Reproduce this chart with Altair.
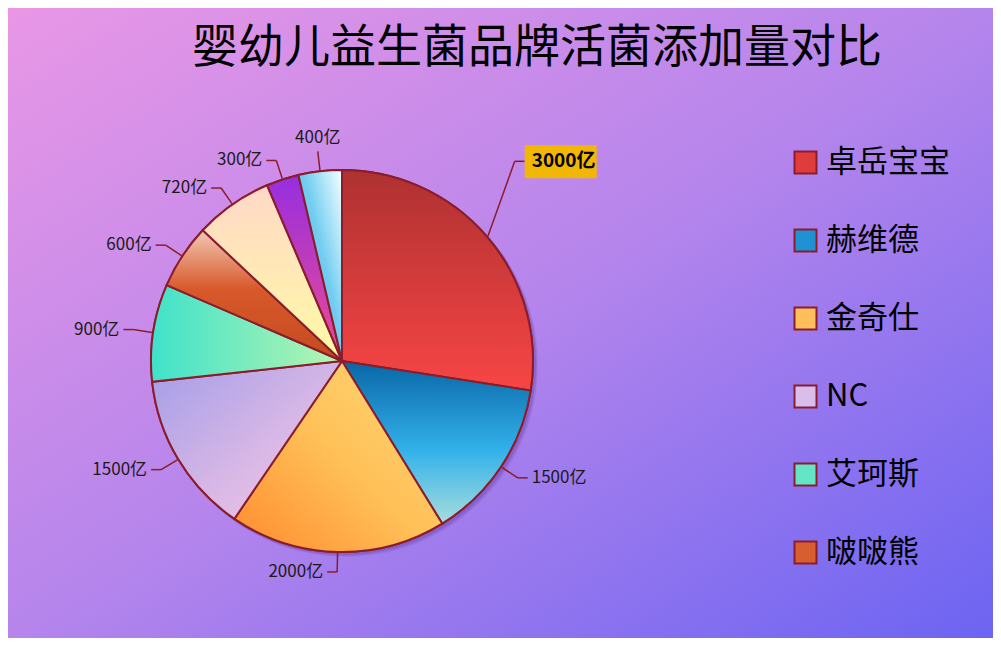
import altair as alt
import pandas as pd

# ---- data ----
brands = ["卓岳宝宝", "赫维德", "金奇仕", "NC", "艾珂斯", "啵啵熊", "品牌七", "品牌八", "品牌九"]
amounts = [3000, 1500, 2000, 1500, 900, 600, 720, 300, 400]
legend_brands = ["卓岳宝宝", "赫维德", "金奇仕", "NC", "艾珂斯", "啵啵熊"]
title_text = "婴幼儿益生菌品牌活菌添加量对比"
unit = "亿"

# ---- layout / style ----
W, H = 985, 630
CX, CY, R = 334, 353, 191
TOTAL = sum(amounts)
FONT = "Noto Sans CJK SC"
EDGE = "#8B1C2C"


def lg(x1, y1, x2, y2, stops):
    return {"gradient": "linear", "x1": x1, "y1": y1, "x2": x2, "y2": y2,
            "stops": [{"offset": o, "color": c} for o, c in stops]}


grads = [
    lg(0, 0, 0, 1, [(0, "#AE3131"), (1, "#F84545")]),
    lg(0, 0, 0, 1, [(0, "#0866A6"), (0.55, "#33B1EA"), (1, "#A8DDDC")]),
    lg(0, 1, 1, 0, [(0, "#FF8A2E"), (0.5, "#FFC158"), (1, "#FFD676")]),
    lg(0, 0, 1, 1, [(0, "#A39DE8"), (0.6, "#DBB9E6"), (1, "#F2C9E2")]),
    lg(0, 0, 1, 0, [(0, "#3FE2CB"), (1, "#B8F5B0")]),
    lg(0, 0, 0, 1, [(0, "#F2C8B6"), (0.45, "#D8582A"), (1, "#C24C20")]),
    lg(0, 0, 0, 1, [(0, "#FFD8C8"), (1, "#FFFBA4")]),
    lg(0, 0, 0, 1, [(0, "#962EE0"), (1, "#EC4C92")]),
    lg(0, 1, 1, 0, [(0, "#45BDEE"), (0.55, "#70CDF0"), (1, "#F6FFFF")]),
]
flat = ["#E03C3C", "#1E92D2", "#FFBE5C", "#D8BEEA", "#62E6C6", "#D65E30",
        "#FFEBB8", "#C040C0", "#9ADCF4"]

df = pd.DataFrame({"brand": brands, "value": amounts, "idx": list(range(len(brands)))})

base = alt.Chart(df).transform_window(
    cum="sum(value)", sort=[alt.SortField("idx")], frame=[None, 0]
).transform_calculate(
    start="datum.cum - datum.value",
    mid=f"(datum.cum - datum.value / 2) / {TOTAL} * 2 * PI",
    label=f"datum.value + '{unit}'",
)

geo = base.transform_joinaggregate(vmax="max(value)").transform_calculate(
    hi="datum.value == datum.vmax ? 1 : 0",
    s="sin(datum.mid)", c="cos(datum.mid)",
).transform_calculate(
    lead="datum.hi ? 73 : 20",
    ang2="datum.hi ? datum.mid - 0.15 : datum.mid",
    top="datum.c > 0 && abs(datum.s) < 0.15 ? 1 : 0",
    side="datum.s > 0 ? 1 : -1",
    px1=f"{CX} + {R + 1} * datum.s",
    py1=f"{CY} - {R + 1} * datum.c",
).transform_calculate(
    px2=f"{CX} + ({R} + datum.lead) * sin(datum.ang2)",
    py2=f"{CY} - ({R} + datum.lead) * cos(datum.ang2)",
).transform_calculate(
    px3="datum.top ? datum.px2 : datum.px2 + 10 * datum.side",
    py3="datum.py2",
).transform_calculate(
    tx="datum.top ? datum.px3 : datum.px3 + 4 * datum.side",
    ty="datum.top ? datum.py3 - 13 : datum.py3",
)

theta_scale = alt.Scale(domain=[0, TOTAL], range=[0, 6.283185307179586])

# background
bg = alt.Chart(pd.DataFrame({"a": [0]})).mark_rect(
    fill=lg(0, 0, 1, 1, [(0, "#E997E6"), (0.5, "#B585EC"), (1, "#6C64F2")]),
    strokeWidth=0,
).encode(x=alt.value(0), x2=alt.value(W), y=alt.value(0), y2=alt.value(H))

# soft shadow
shadows = [
    alt.Chart(pd.DataFrame({"a": [0]})).mark_arc(
        theta=0, theta2=6.2832, radius=R + 1, fill="#3A1A6A", opacity=op
    ).encode(x=alt.value(CX + d), y=alt.value(CY + d))
    for d, op in [(2, 0.12), (3, 0.1), (4, 0.08)]
]

# base pie (carries the legend)
pie = base.mark_arc(radius=R, stroke=EDGE, strokeWidth=2).encode(
    theta=alt.Theta("start:Q", scale=theta_scale),
    theta2="cum:Q",
    color=alt.Color(
        "brand:N",
        scale=alt.Scale(domain=brands, range=flat),
        legend=alt.Legend(
            values=legend_brands, title=None, orient="none",
            legendX=782, legendY=139, padding=0,
            symbolType="square", symbolSize=484,
            symbolStrokeColor=EDGE, symbolStrokeWidth=2,
            labelFont=FONT, labelFontSize=31, labelColor="#000000",
            labelOffset=5, rowPadding=46, labelLimit=300,
        ),
    ),
    x=alt.value(CX), y=alt.value(CY),
)

# gradient slices
slices = [
    base.transform_filter(f"datum.idx == {i}").mark_arc(
        radius=R, fill=grads[i], stroke=EDGE, strokeWidth=2
    ).encode(
        theta=alt.Theta("start:Q", scale=theta_scale),
        theta2="cum:Q",
        x=alt.value(CX), y=alt.value(CY),
    )
    for i in range(len(brands))
]

seg1 = geo.mark_rule(color=EDGE, strokeWidth=1.5).encode(
    x=alt.X("px1:Q", scale=None), y=alt.Y("py1:Q", scale=None),
    x2="px2:Q", y2="py2:Q",
)
seg2 = geo.mark_rule(color=EDGE, strokeWidth=1.5).encode(
    x=alt.X("px2:Q", scale=None), y=alt.Y("py2:Q", scale=None),
    x2="px3:Q", y2="py3:Q",
)

hl = geo.transform_filter("datum.hi == 1").transform_calculate(
    bw="length(toString(datum.value)) * 10.5 + 18 + 12",
).transform_calculate(
    bx1="datum.side > 0 ? datum.tx - 4 : datum.tx - datum.bw + 4",
    bx2="datum.side > 0 ? datum.tx - 4 + datum.bw : datum.tx + 4",
    by1="datum.ty - 16", by2="datum.ty + 17",
)
hl_box = hl.mark_rect(fill="#F2B705").encode(
    x=alt.X("bx1:Q", scale=None), x2="bx2:Q",
    y=alt.Y("by1:Q", scale=None), y2="by2:Q",
)
hl_text = hl.mark_text(font=FONT, fontSize=19, fontWeight="bold", color="#000000",
                       align="left", baseline="middle", dx=3).encode(
    x=alt.X("tx:Q", scale=None), y=alt.Y("ty:Q", scale=None), text="label:N",
)

labels = geo.transform_filter("datum.hi == 0")
lab_r = labels.transform_filter("datum.top == 0 && datum.side > 0").mark_text(
    font=FONT, fontSize=17, color="#1A1A1A", align="left", baseline="middle"
).encode(x=alt.X("tx:Q", scale=None), y=alt.Y("ty:Q", scale=None), text="label:N")
lab_l = labels.transform_filter("datum.top == 0 && datum.side < 0").mark_text(
    font=FONT, fontSize=17, color="#1A1A1A", align="right", baseline="middle"
).encode(x=alt.X("tx:Q", scale=None), y=alt.Y("ty:Q", scale=None), text="label:N")
lab_t = labels.transform_filter("datum.top == 1").mark_text(
    font=FONT, fontSize=17, color="#1A1A1A", align="center", baseline="middle"
).encode(x=alt.X("tx:Q", scale=None), y=alt.Y("ty:Q", scale=None), text="label:N")

title = alt.Chart(pd.DataFrame({"a": [0]})).mark_text(
    text=title_text, font=FONT, fontSize=46, color="#000000",
    align="center", baseline="middle",
).encode(x=alt.value(529), y=alt.value(40))

chart = alt.layer(
    bg, *shadows, pie, *slices, seg1, seg2, hl_box, hl_text, lab_r, lab_l, lab_t, title
).properties(
    width=W, height=H,
    autosize=alt.AutoSizeParams(type="fit", contains="padding"),
    padding=0,
).configure_view(stroke=None)

chart.save("out.html", embed_options={"renderer": "svg", "actions": False})
